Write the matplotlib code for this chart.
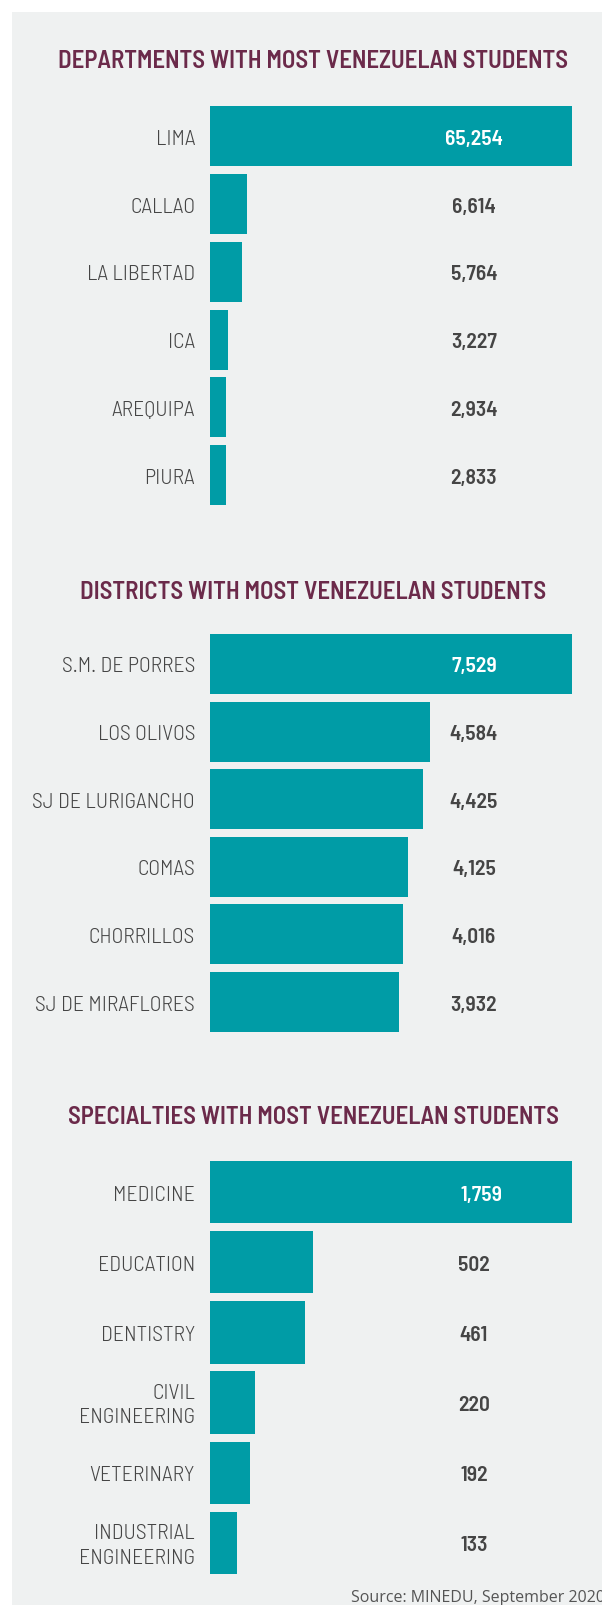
import matplotlib
matplotlib.use("Agg")
import matplotlib.pyplot as plt
from matplotlib.patches import Rectangle
from matplotlib.transforms import offset_copy

# data
dept_names = ["LIMA", "CALLAO", "LA LIBERTAD", "ICA", "AREQUIPA", "PIURA"]
dept_values = [65254, 6614, 5764, 3227, 2934, 2833]

district_names = ["S.M. DE PORRES", "LOS OLIVOS", "SJ DE LURIGANCHO", "COMAS",
                  "CHORRILLOS", "SJ DE MIRAFLORES"]
district_values = [7529, 4584, 4425, 4125, 4016, 3932]

specialty_names = ["MEDICINE", "EDUCATION", "DENTISTRY", "CIVIL\nENGINEERING",
                   "VETERINARY", "INDUSTRIAL\nENGINEERING"]
specialty_values = [1759, 502, 461, 220, 192, 133]

titles = ["DEPARTMENTS WITH MOST VENEZUELAN STUDENTS",
          "DISTRICTS WITH MOST VENEZUELAN STUDENTS",
          "SPECIALTIES WITH MOST VENEZUELAN STUDENTS"]
source_text = "Source: MINEDU, September 2020"

W, H = 602, 1605
TEAL = "#009ca6"
MAROON = "#6b2a4a"
GRAY = "#454545"
PANEL = "#eff1f1"
COND = ["Barlow Semi Condensed", "DejaVu Sans"]

fig = plt.figure(figsize=(W / 100, H / 100), dpi=100)
fig.patch.set_facecolor("white")
fig.patches.append(Rectangle((11.5 / W, 0), 1, 1 - 11.5 / H, transform=fig.transFigure,
                             facecolor=PANEL, edgecolor="none", zorder=-5))


def px_axes(x0, y0, x1, y1):
    return fig.add_axes([x0 / W, 1 - y1 / H, (x1 - x0) / W, (y1 - y0) / H])


def section(cats, vals, title, top, bottom, title_y, val_x, inner_x):
    ax = px_axes(210, top, 572, bottom)
    ax.set_facecolor("none")
    n = len(vals)
    h = 0.886
    ax.barh(range(n), vals, height=h, color=TEAL)
    ax.set_xlim(0, max(vals))
    ax.set_ylim(n - 1 + h / 2, -h / 2)
    for s in ax.spines.values():
        s.set_visible(False)
    ax.set_xticks([])
    ax.set_yticks([])
    # nudge text down a little so caps sit in the bar middle
    tr = offset_copy(ax.get_yaxis_transform(), fig=fig, y=-3, units="dots")
    for i, (c, v) in enumerate(zip(cats, vals)):
        ax.text(-15 / 362, i, c, transform=tr, ha="right", va="center", ma="right",
                fontsize=15.6, fontweight=300, color=GRAY, family=COND, linespacing=1.35)
        first = i == 0
        ax.text(inner_x if first else val_x, i, f"{v:,}", transform=tr,
                ha="center", va="center", fontsize=15.5, fontweight=600,
                color="white" if first else GRAY, family=COND)
    fig.text(313 / W, 1 - title_y / H, title, ha="center", va="center", fontsize=17.8,
             fontweight=600, color=MAROON, family=COND)


section(dept_names, dept_values, titles[0], 106.5, 505, 61, 0.729, 0.729)
section(district_names, district_values, titles[1], 634, 1032, 592.5, 0.729, 0.729)
section(specialty_names, specialty_values, titles[2], 1161, 1574, 1117, 0.729, 0.75)

fig.text(351 / W, 1 - 1598 / H, source_text, ha="left", va="center", fontsize=11.5,
         color="#555555", family="Open Sans")

fig.savefig("out.png", dpi=100)
